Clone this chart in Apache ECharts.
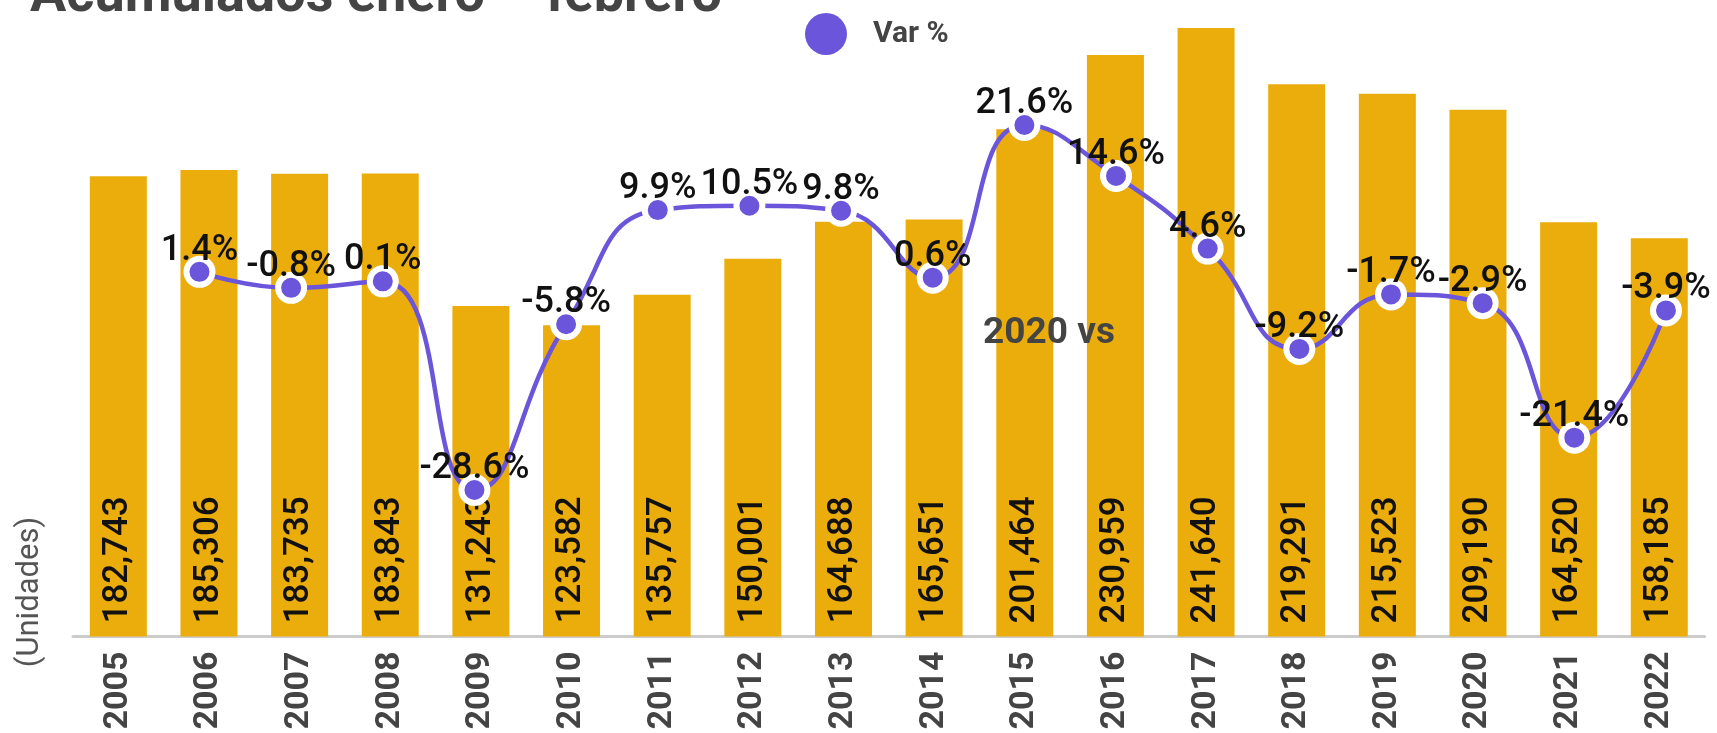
<!DOCTYPE html>
<html>
<head>
<meta charset="utf-8">
<script src="https://cdn.jsdelivr.net/npm/echarts@6/dist/echarts.min.js"></script>
<style>
    html, body { margin: 0; padding: 0; background: #fff; }
    #chart { width: 1717px; height: 733px; }
</style>
</head>
<body>
<div id="chart"></div>
<script>
// años
var years = ['2005', '2006', '2007', '2008', '2009', '2010', '2011', '2012', '2013',
    '2014', '2015', '2016', '2017', '2018', '2019', '2020', '2021', '2022'];
// unidades acumuladas enero-febrero
var unidades = [182743, 185306, 183735, 183843, 131243, 123582, 135757, 150001, 164688,
    165651, 201464, 230959, 241640, 219291, 215523, 209190, 164520, 158185];
// variación % (2005 no tiene)
var varPct = [null, 1.4, -0.8, 0.1, -28.6, -5.8, 9.9, 10.5, 9.8,
    0.6, 21.6, 14.6, 4.6, -9.2, -1.7, -2.9, -21.4, -3.9];

var barColor = '#eaad0b';
var lineColor = '#6b55da';
var font = 'Roboto';

var myChart = echarts.init(document.getElementById('chart'));

var option = {
    animation: false,
    textStyle: { fontFamily: font },
    graphic: [
        {
            type: 'text',
            left: 30,
            top: -30,
            z: 100,
            style: {
                text: 'Acumulados enero – febrero',
                font: 'bold 54px Roboto',
                fill: '#444'
            }
        },
        {
            type: 'text',
            x: 30,
            y: 592,
            rotation: Math.PI / 2,
            z: 100,
            style: {
                text: '(Unidades)',
                font: '31px Roboto',
                fill: '#555',
                align: 'center',
                verticalAlign: 'middle'
            }
        },
        {
            type: 'text',
            x: 1049,
            y: 334,
            z: 100,
            style: {
                text: '2020 vs',
                font: 'bold 37px Roboto',
                fill: '#444',
                align: 'center',
                verticalAlign: 'middle'
            }
        }
    ],
    legend: {
        data: [{ name: 'Var %', icon: 'circle' }],
        left: 805,
        top: 13,
        padding: 0,
        itemWidth: 42,
        itemHeight: 42,
        itemStyle: { borderWidth: 0 },
        textStyle: {
            fontSize: 30,
            fontWeight: 'bold',
            color: '#444',
            padding: [0, 0, 0, 21]
        }
    },
    grid: [
        { left: 73, right: 12.4, top: 7, bottom: 96.5 },   // barras
        { left: 62, right: 5.2, top: 7, bottom: 96.5 }     // línea
    ],
    xAxis: [
        {
            type: 'category',
            gridIndex: 0,
            data: years,
            axisTick: { show: false },
            axisLine: { lineStyle: { color: '#cccccc', width: 3 } },
            axisLabel: {
                rotate: 90,
                margin: 15,
                fontSize: 34,
                fontWeight: 'bold',
                color: '#444'
            }
        },
        {
            type: 'category',
            gridIndex: 1,
            data: years,
            show: false
        }
    ],
    yAxis: [
        {
            type: 'value',
            gridIndex: 0,
            min: 0,
            max: 250000,
            show: false
        },
        {
            type: 'value',
            gridIndex: 1,
            min: -48.75,
            max: 37.83,
            show: false
        }
    ],
    series: [
        {
            name: 'Unidades',
            type: 'bar',
            xAxisIndex: 0,
            yAxisIndex: 0,
            data: unidades,
            barWidth: 57,
            itemStyle: { color: barColor },
            label: {
                show: true,
                position: 'insideBottom',
                rotate: 90,
                align: 'left',
                verticalAlign: 'middle',
                distance: 13,
                fontSize: 35,
                fontWeight: 500,
                color: '#111',
                formatter: function (p) {
                    return p.value.toLocaleString('en-US');
                }
            }
        },
        {
            name: 'Var %',
            type: 'line',
            xAxisIndex: 1,
            yAxisIndex: 1,
            data: varPct,
            smooth: 0.5,
            symbol: 'circle',
            symbolSize: 26,
            lineStyle: { color: lineColor, width: 4.5 },
            itemStyle: {
                color: lineColor,
                borderColor: '#fff',
                borderWidth: 6
            },
            label: {
                show: true,
                position: 'top',
                distance: -13,
                fontSize: 36,
                fontWeight: 500,
                color: '#111',
                formatter: function (p) {
                    return p.value.toFixed(1) + '%';
                }
            },
            z: 5
        }
    ]
};

myChart.setOption(option);
</script>
</body>
</html>
